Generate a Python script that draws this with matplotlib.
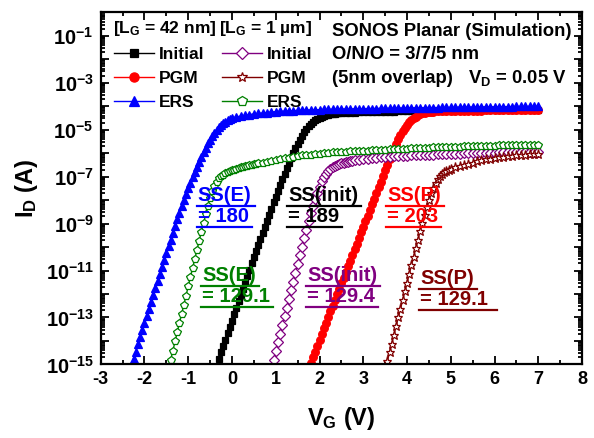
import numpy as np
import matplotlib
matplotlib.use('Agg')
import matplotlib.pyplot as plt
from matplotlib.ticker import FixedLocator, LogLocator, NullFormatter, MultipleLocator
from matplotlib.lines import Line2D

plt.rcParams['font.family'] = ['Liberation Sans', 'DejaVu Sans']
plt.rcParams['font.weight'] = 'bold'
plt.rcParams['axes.labelweight'] = 'bold'
plt.rcParams['axes.unicode_minus'] = False
plt.rcParams['mathtext.fontset'] = 'custom'
plt.rcParams['mathtext.rm'] = 'Liberation Sans:bold'
plt.rcParams['mathtext.it'] = 'Liberation Sans:bold'
plt.rcParams['mathtext.bf'] = 'Liberation Sans:bold'
plt.rcParams['mathtext.default'] = 'rm'


# gate sweep: 50 mV steps through subthreshold, then 100 mV steps up to 7 V
def sweep(v_start, v_knee, v_end=7.0):
    fine = np.linspace(v_start, v_knee, int(round((v_knee - v_start) / 0.05)) + 1)
    c0 = np.floor(v_knee * 10 + 1e-6) / 10 + 0.1
    coarse = np.linspace(c0, v_end, int(round((v_end - c0) / 0.1)) + 1)
    return np.r_[fine, coarse]


# ---- L_G = 42 nm ----
vg_init42 = sweep(-0.30, 2.50)
log_init42 = [
    -14.75, -14.48, -14.21, -13.94, -13.67, -13.40, -13.13,
    -12.86, -12.59, -12.32, -12.05, -11.78, -11.51, -11.24, -10.97, -10.70, -10.44,
    -10.18, -9.92, -9.66, -9.40, -9.14, -8.88, -8.62, -8.36, -8.10, -7.85,
    -7.60, -7.35, -7.11, -6.87, -6.64, -6.42, -6.20, -5.99, -5.79, -5.60,
    -5.42, -5.26, -5.11, -4.98, -4.86, -4.76, -4.67, -4.60, -4.54, -4.49,
    -4.45, -4.42, -4.39, -4.37, -4.35, -4.33, -4.32, -4.31, -4.30, -4.29,
    -4.28, -4.27, -4.27, -4.26, -4.26,
    -4.25, -4.25, -4.24, -4.24, -4.23, -4.23, -4.23, -4.22, -4.22, -4.22,
    -4.21, -4.21, -4.21, -4.20, -4.20, -4.20, -4.20, -4.19, -4.19, -4.19,
    -4.19, -4.18, -4.18, -4.18, -4.18, -4.17, -4.17, -4.17, -4.17, -4.17,
    -4.16, -4.16, -4.16, -4.16, -4.16, -4.15, -4.15, -4.15, -4.15, -4.15,
]

vg_pgm42 = sweep(1.80, 4.60)
log_pgm42 = [
    -14.95, -14.70, -14.45, -14.20, -13.95, -13.70, -13.46, -13.22, -12.98, -12.74,
    -12.50, -12.26, -12.02, -11.78, -11.54, -11.30, -11.06, -10.82, -10.58, -10.34,
    -10.10, -9.86, -9.62, -9.38, -9.14, -8.90, -8.66, -8.42, -8.18, -7.94,
    -7.70, -7.46, -7.22, -6.98, -6.74, -6.50, -6.26, -6.03, -5.81, -5.60,
    -5.40, -5.22, -5.06, -4.92, -4.80, -4.69, -4.59, -4.51, -4.44, -4.39,
    -4.34, -4.31, -4.28, -4.26, -4.25, -4.24, -4.23,
    -4.22, -4.22, -4.21, -4.21, -4.20, -4.20, -4.20, -4.19, -4.19, -4.19,
    -4.19, -4.18, -4.18, -4.18, -4.18, -4.17, -4.17, -4.17, -4.17, -4.17,
    -4.16, -4.16, -4.16, -4.16,
]

vg_ers42 = sweep(-2.25, 0.0)
log_ers42 = [
    -14.75, -14.45, -14.15, -13.85, -13.55, -13.25, -12.95, -12.65, -12.35, -12.05,
    -11.75, -11.45, -11.15, -10.85, -10.55, -10.26, -9.97, -9.68, -9.39, -9.10,
    -8.82, -8.54, -8.27, -8.00, -7.75, -7.50,
    -7.26, -7.03, -6.80, -6.58, -6.37, -6.16, -5.96, -5.77, -5.59, -5.42,
    -5.27, -5.13, -5.00, -4.90, -4.81, -4.73, -4.66, -4.60, -4.55, -4.50,
    -4.46, -4.42, -4.39, -4.36, -4.33, -4.31, -4.29, -4.27, -4.25, -4.23,
    -4.22, -4.21, -4.20, -4.19, -4.18, -4.17, -4.16, -4.16, -4.15, -4.15,
    -4.14, -4.14, -4.13, -4.13, -4.12, -4.12, -4.12, -4.11, -4.11, -4.11,
    -4.10, -4.10, -4.10, -4.09, -4.09, -4.09, -4.08, -4.08, -4.08, -4.07,
    -4.07, -4.07, -4.07, -4.06, -4.06, -4.06, -4.06, -4.05, -4.05, -4.05,
    -4.05, -4.04, -4.04, -4.04, -4.04, -4.03, -4.03, -4.03, -4.03, -4.03,
    -4.02, -4.02, -4.02, -4.02, -4.01, -4.01, -4.01, -4.01, -4.01, -4.00,
]

# ---- L_G = 1 um ----
vg_init1 = sweep(0.95, 2.75)
log_init1 = [
    -14.80, -14.43, -14.06, -13.69, -13.32, -12.95, -12.58, -12.21, -11.84, -11.47,
    -11.10, -10.73, -10.36, -9.99, -9.62, -9.26, -8.91, -8.57, -8.25, -7.95,
    -7.68, -7.43, -7.20, -7.01, -6.87, -6.76, -6.68, -6.61, -6.56, -6.51,
    -6.47, -6.44, -6.41, -6.38, -6.36, -6.34, -6.32,
    -6.31, -6.28, -6.26, -6.24, -6.22, -6.20, -6.18, -6.17, -6.15, -6.14,
    -6.13, -6.12, -6.11, -6.10, -6.09, -6.08, -6.07, -6.06, -6.06, -6.05,
    -6.04, -6.04, -6.03, -6.02, -6.02, -6.01, -6.01, -6.00, -6.00, -5.99,
    -5.99, -5.98, -5.98, -5.97, -5.97, -5.97, -5.96, -5.96, -5.96, -5.95,
    -5.95, -5.95, -5.94,
]

vg_pgm1 = sweep(3.55, 5.00)
log_pgm1 = [
    -14.85, -14.48, -14.11, -13.74, -13.37, -13.00, -12.63, -12.26, -11.89, -11.52,
    -11.15, -10.78, -10.41, -10.04, -9.68, -9.32, -8.97, -8.63, -8.30, -7.99,
    -7.71, -7.47, -7.27, -7.11, -6.99, -6.89, -6.81, -6.75, -6.70, -6.66,
    -6.60, -6.55, -6.50, -6.45, -6.40, -6.35, -6.31, -6.27, -6.24, -6.21,
    -6.18, -6.16, -6.14, -6.12, -6.10, -6.08, -6.06, -6.05, -6.03, -6.02,
]

vg_ers1 = sweep(-1.40, 0.60)
log_ers1 = [
    -14.80, -14.41, -14.02, -13.63, -13.24, -12.85, -12.46, -12.07, -11.68, -11.29,
    -10.90, -10.51, -10.12, -9.74, -9.36, -8.98, -8.61, -8.25, -7.92, -7.63,
    -7.39, -7.21, -7.08, -6.99, -6.92, -6.86, -6.81, -6.77, -6.73, -6.70,
    -6.67, -6.64, -6.61, -6.59, -6.56, -6.54, -6.52, -6.50, -6.48, -6.46, -6.44,
    -6.41, -6.38, -6.34, -6.30, -6.26, -6.22, -6.19, -6.16, -6.13, -6.10,
    -6.08, -6.06, -6.04, -6.02, -6.00, -5.99, -5.97, -5.96, -5.95, -5.94,
    -5.93, -5.92, -5.91, -5.90, -5.89, -5.88, -5.87, -5.86, -5.85, -5.84,
    -5.83, -5.82, -5.81, -5.81, -5.80, -5.79, -5.78, -5.77, -5.77, -5.76,
    -5.75, -5.75, -5.74, -5.73, -5.73, -5.72, -5.71, -5.71, -5.70, -5.70,
    -5.69, -5.69, -5.68, -5.68, -5.67, -5.67, -5.66, -5.66, -5.66, -5.65,
    -5.65, -5.65, -5.64, -5.64,
]

purple = '#800080'
wine = '#800000'
green = '#008000'

series = [
    # (vg, log10 Id, color, marker, filled, size)
    (vg_init42, log_init42, 'black', 's', True, 5),
    (vg_pgm42, log_pgm42, 'red', 'o', True, 5.5),
    (vg_ers42, log_ers42, 'blue', '^', True, 5.5),
    (vg_init1, log_init1, purple, 'D', False, 5),
    (vg_pgm1, log_pgm1, wine, '*', False, 6.5),
    (vg_ers1, log_ers1, green, 'p', False, 6),
]
legend_labels = ['Initial', 'PGM', 'ERS', 'Initial', 'PGM', 'ERS']

# SS annotations: (lines, color, V, I at top-left)
ss_notes = [
    (['SS(E)', '= 180'], 'blue', -0.78, 10**-7.4),
    (['SS(init)', '= 189'], 'black', 1.28, 10**-7.4),
    (['SS(P)', '= 203'], 'red', 3.55, 10**-7.4),
    (['SS(E)', '= 129.1'], green, -0.68, 10**-10.8),
    (['SS(init)', '= 129.4'], purple, 1.72, 10**-10.8),
    (['SS(P)', '= 129.1 '], wine, 4.30, 10**-10.92),
]

fig = plt.figure(figsize=(5.94, 4.38), dpi=100)
ax = fig.add_axes([0.1695, 0.168, 0.8105, 0.804])

handles = []
for vg, logid, col, mk, filled, ms in series:
    assert len(vg) == len(logid), (len(vg), len(logid))
    h, = ax.plot(vg, 10.0 ** np.array(logid), color=col, lw=1,
                 marker=mk, ms=ms, mec=col, mew=0.9,
                 mfc=col if filled else 'white')
    handles.append(h)

ax.set_yscale('log')
ax.set_xlim(-3, 8)
ax.set_ylim(1e-15, 1)
xt = list(range(-3, 9))
ax.set_xticks(xt, labels=[str(v) for v in xt], fontsize=13, fontweight='bold')
ax.xaxis.set_minor_locator(MultipleLocator(0.5))
decades = [10.0 ** k for k in range(-15, 1)]
ax.set_yticks(decades, labels=['$10^{%d}$' % k if k % 2 else '' for k in range(-15, 1)],
              fontsize=14.5)
ax.yaxis.set_minor_locator(LogLocator(base=10, subs=np.arange(2, 10), numticks=100))
ax.yaxis.set_minor_formatter(NullFormatter())
ax.tick_params(which='both', direction='in', top=True, right=True, width=1.3)
ax.tick_params(which='major', length=6, pad=5)
ax.tick_params(which='minor', length=3)
for sp in ax.spines.values():
    sp.set_linewidth(1.6)

ax.set_xlabel('V$_\\mathrm{G}$ (V)', fontsize=17, labelpad=12)
ax.set_ylabel('I$_\\mathrm{D}$ (A)', fontsize=17, labelpad=4)

leg = ax.legend(handles, legend_labels, ncol=2, loc='upper left',
                bbox_to_anchor=(0.002, 0.935), frameon=False, fontsize=12.5,
                handlelength=2.3, handletextpad=0.3, columnspacing=1.0,
                labelspacing=0.5, borderaxespad=0.3, markerscale=1.2)
ax.text(0.025, 0.940, '[L$_G$ = 42 nm]', transform=ax.transAxes,
        fontsize=12.5, va='baseline', ha='left')
ax.text(0.245, 0.940, '[L$_G$ = 1 \u00b5m]', transform=ax.transAxes,
        fontsize=12.5, va='baseline', ha='left')

ax.text(0.481, 0.932, 'SONOS Planar (Simulation)', transform=ax.transAxes,
        fontsize=13.3, va='baseline', ha='left')
ax.text(0.481, 0.866, 'O/N/O = 3/7/5 nm', transform=ax.transAxes,
        fontsize=13.3, va='baseline', ha='left')
ax.text(0.481, 0.798, '(5nm overlap)', transform=ax.transAxes,
        fontsize=13.3, va='baseline', ha='left')
ax.text(0.969, 0.798, 'V$_D$ = 0.05 V', transform=ax.transAxes,
        fontsize=13.3, va='baseline', ha='right')

# annotation texts, one per line, each underlined
fig.canvas.draw()
renderer = fig.canvas.get_renderer()
for lines, col, v0, i0 in ss_notes:
    for k, s in enumerate(lines):
        t = ax.annotate(s, xy=(v0, i0), xytext=(0, -21 * k), textcoords='offset pixels',
                        fontsize=14.5, color=col, va='top', ha='left')
        bb = t.get_window_extent(renderer)
        y = bb.y0 - 1
        ln = Line2D([bb.x0 - 1, bb.x1 + 3], [y, y], color=col, lw=1.6,
                    transform=None)
        fig.add_artist(ln)

fig.savefig('out.png', dpi=100)
